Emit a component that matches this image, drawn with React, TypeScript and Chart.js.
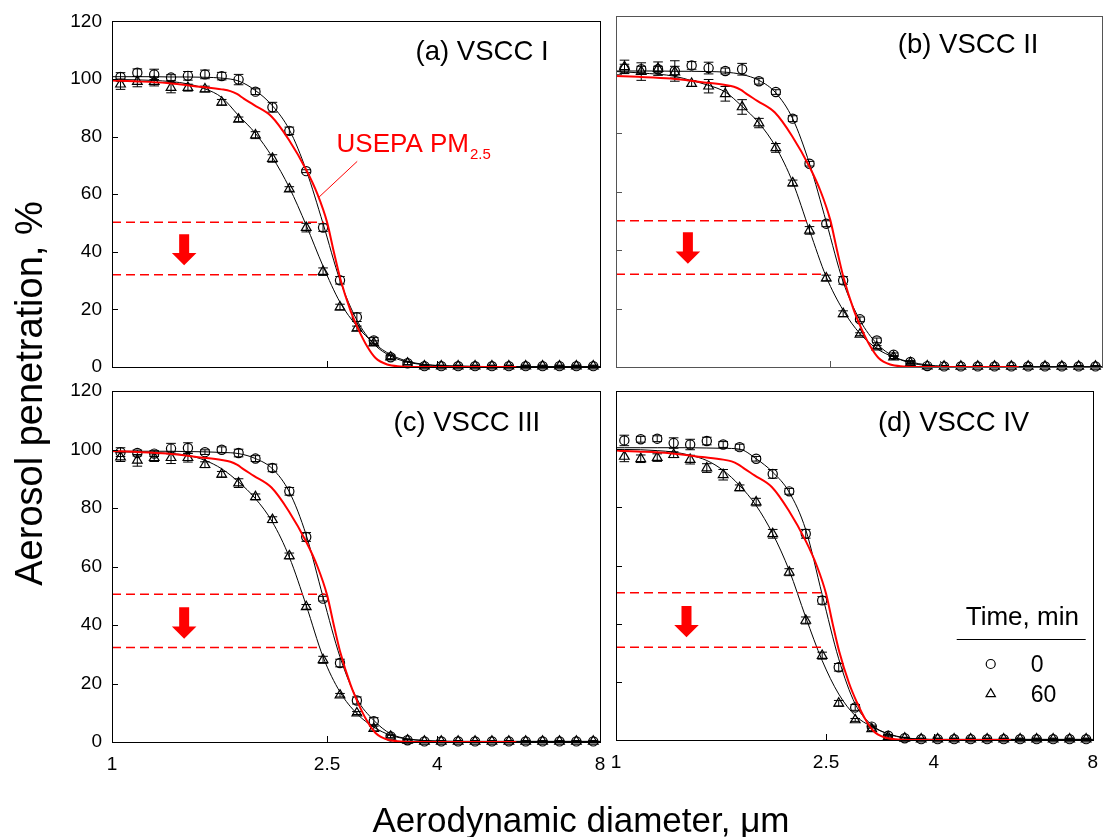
import React, { useEffect, useRef } from 'react';
import { Chart, registerables } from 'chart.js';

Chart.register(...registerables);

// ---------------- DATA ----------------
const DIAMETERS = [1.037, 1.114, 1.197, 1.286, 1.382, 1.486, 1.596, 1.715, 1.843, 1.981, 2.129, 2.288, 2.458, 2.642, 2.839, 3.051, 3.278, 3.523, 3.786, 4.068, 4.371, 4.698, 5.048, 5.425, 5.829, 6.264, 6.732, 7.234, 7.774];
const FIT_D = [1.0, 1.037, 1.114, 1.197, 1.286, 1.382, 1.486, 1.596, 1.715, 1.843, 1.981, 2.129, 2.288, 2.458, 2.642, 2.839, 3.051, 3.278, 3.523, 3.786, 4.068, 4.371, 4.698, 5.048, 5.425, 5.829, 6.264, 6.732, 7.234, 7.774, 8.0];
const X_TICKS = [1, 2.5, 4, 8];
const X_TICK_MARKS = [2.5, 4];
const Y_TICK_MARKS = [20, 40, 60, 80, 100];

// USEPA PM2.5 reference penetration curve
const USEPA_D = [1.0, 1.1, 1.264, 1.457, 1.596, 1.656, 1.703, 1.753, 1.83, 1.973, 2.123, 2.29, 2.4, 2.5, 2.573, 2.647, 2.763, 2.862, 2.967, 3.074, 3.231, 3.42, 3.72, 5.6];
const USEPA_P = [99.5, 99.2, 98.6, 97.3, 96.4, 95.8, 94.8, 93.2, 91.0, 87.0, 79.0, 68.3, 60.0, 50.3, 40.0, 30.5, 19.6, 12.8, 7.1, 3.1, 0.85, 0.2, 0, 0];

// (a) VSCC I
const A_T0 = [100.7, 102.2, 101.6, 100.5, 101.1, 101.6, 101.0, 99.8, 95.6, 90.2, 82.0, 68.0, 48.4, 30.1, 17.3, 9.2, 3.4, 1.3, 0.3, 0.3, 0.3, 0.3, 0.3, 0.3, 0.3, 0.3, 0.3, 0.3, 0.3];
const A_T0_ERR = [1.5, 1.3, 1.8, 1.0, 1.5, 1.5, 1.3, 1.8, 1.0, 1.7, 1.3, 0.5, 1.3, 1.3, 1.5, 1.0, 0.8, 0.5, 0.3, 0.3, 0.3, 0.3, 0.3, 0.3, 0.3, 0.3, 0.3, 0.3, 0.3];
const A_T60 = [98.2, 99.1, 99.1, 97.0, 97.0, 96.5, 91.9, 86.0, 80.5, 72.4, 61.8, 48.4, 33.1, 20.8, 13.4, 8.3, 3.4, 1.3, 0.3, 0.3, 0.3, 0.3, 0.3, 0.3, 0.3, 0.3, 0.3, 0.3, 0.3];
const A_T60_ERR = [1.8, 1.8, 1.5, 1.8, 1.2, 1.0, 1.0, 0.8, 1.2, 1.3, 0.8, 1.5, 1.3, 1.0, 0.8, 0.8, 0.5, 0.5, 0.3, 0.3, 0.3, 0.3, 0.3, 0.3, 0.3, 0.3, 0.3, 0.3, 0.3];
const A_FIT0 = [100.8, 100.8, 100.8, 100.8, 100.7, 100.7, 100.6, 100.3, 99.3, 96.0, 90.7, 82.4, 68.3, 49.8, 30.1, 16.3, 8.0, 3.8, 1.7, 0.8, 0.45, 0.3, 0.2, 0.15, 0.12, 0.1, 0.1, 0.1, 0.1, 0.1, 0.1];
const A_FIT60 = [99.8, 99.8, 99.7, 99.5, 99.1, 98.3, 96.6, 93.6, 87.3, 81.1, 72.8, 62.3, 49.2, 35.0, 22.5, 14.2, 8.3, 4.3, 2.0, 0.9, 0.45, 0.3, 0.2, 0.15, 0.12, 0.1, 0.1, 0.1, 0.1, 0.1, 0.1];

// (b) VSCC II
const B_T0 = [102.0, 101.8, 101.8, 101.2, 103.1, 102.2, 101.2, 101.8, 97.7, 94.0, 84.9, 69.5, 49.0, 29.6, 16.3, 9.1, 4.2, 1.7, 0.3, 0.2, 0.2, 0.2, 0.2, 0.2, 0.2, 0.2, 0.2, 0.2, 0.2];
const B_T0_ERR = [1.5, 1.0, 1.0, 3.5, 1.3, 2.0, 1.0, 2.0, 1.0, 0.8, 1.0, 0.8, 1.0, 1.3, 0.8, 0.8, 0.6, 0.5, 0.3, 0.3, 0.3, 0.3, 0.3, 0.3, 0.3, 0.3, 0.3, 0.3, 0.3];
const B_T60 = [102.6, 101.0, 102.0, 100.8, 96.9, 96.0, 93.4, 88.9, 83.4, 74.9, 62.9, 46.7, 30.4, 18.2, 11.2, 6.8, 3.4, 1.4, 0.3, 0.2, 0.2, 0.2, 0.2, 0.2, 0.2, 0.2, 0.2, 0.2, 0.2];
const B_T60_ERR = [2.3, 3.0, 2.3, 2.0, 1.0, 2.3, 2.5, 2.5, 1.6, 1.5, 1.0, 1.3, 1.0, 1.0, 0.5, 0.5, 0.5, 0.5, 0.3, 0.3, 0.3, 0.3, 0.3, 0.3, 0.3, 0.3, 0.3, 0.3, 0.3];
const B_FIT0 = [101.2, 101.2, 101.2, 101.2, 101.1, 101.1, 101.0, 100.8, 100.0, 98.0, 93.7, 84.9, 69.5, 49.6, 29.1, 16.0, 8.0, 3.6, 1.4, 0.5, 0.2, 0.1, 0.1, 0.1, 0.1, 0.1, 0.1, 0.1, 0.1, 0.1, 0.1];
const B_FIT60 = [101.0, 100.9, 100.5, 100.1, 99.4, 97.9, 96.3, 94.0, 89.1, 83.4, 75.2, 63.2, 46.7, 30.8, 19.4, 11.4, 6.3, 3.4, 1.7, 0.7, 0.2, 0.1, 0.1, 0.1, 0.1, 0.1, 0.1, 0.1, 0.1, 0.1, 0.1];

// (c) VSCC III
const C_T0 = [99.1, 98.8, 98.6, 100.3, 100.5, 99.1, 99.9, 98.8, 96.9, 93.7, 85.7, 70.1, 49.0, 27.0, 14.2, 7.1, 1.9, 0.6, 0.2, 0.2, 0.2, 0.2, 0.2, 0.2, 0.2, 0.2, 0.2, 0.2, 0.2];
const C_T0_ERR = [1.5, 1.0, 1.0, 1.8, 1.8, 0.8, 1.0, 1.3, 1.0, 1.3, 1.3, 1.5, 0.8, 1.3, 1.2, 1.2, 0.5, 0.3, 0.3, 0.3, 0.3, 0.3, 0.3, 0.3, 0.3, 0.3, 0.3, 0.3, 0.3];
const C_T60 = [97.4, 96.3, 97.2, 97.2, 97.2, 94.8, 91.5, 88.5, 83.8, 76.0, 63.6, 46.2, 28.1, 16.0, 9.9, 4.6, 1.9, 0.6, 0.2, 0.2, 0.2, 0.2, 0.2, 0.2, 0.2, 0.2, 0.2, 0.2, 0.2];
const C_T60_ERR = [1.5, 2.0, 1.3, 2.0, 1.5, 1.0, 1.0, 1.5, 1.0, 1.0, 1.0, 0.8, 1.2, 0.6, 0.5, 0.8, 0.5, 0.3, 0.3, 0.3, 0.3, 0.3, 0.3, 0.3, 0.3, 0.3, 0.3, 0.3, 0.3];
const C_FIT0 = [99.4, 99.4, 99.4, 99.4, 99.4, 99.3, 99.2, 99.0, 98.6, 96.9, 93.4, 85.5, 70.7, 49.6, 29.1, 14.8, 7.4, 2.8, 1.1, 0.5, 0.25, 0.2, 0.2, 0.2, 0.2, 0.2, 0.2, 0.2, 0.2, 0.2, 0.2];
const C_FIT60 = [99.3, 99.2, 99.1, 98.9, 98.6, 98.0, 96.3, 93.4, 88.9, 83.2, 75.2, 63.2, 46.7, 29.1, 17.1, 9.7, 5.1, 2.3, 1.0, 0.5, 0.25, 0.2, 0.2, 0.2, 0.2, 0.2, 0.2, 0.2, 0.2, 0.2, 0.2];

// (d) VSCC IV
const D_T0 = [103.0, 103.4, 103.6, 102.1, 101.6, 102.8, 101.6, 100.7, 96.7, 91.5, 85.5, 70.9, 48.0, 25.0, 11.2, 4.6, 1.5, 0.6, 0.3, 0.3, 0.3, 0.3, 0.3, 0.3, 0.3, 0.3, 0.3, 0.3, 0.3];
const D_T0_ERR = [1.8, 1.0, 1.0, 1.8, 1.8, 1.3, 1.0, 1.0, 0.8, 1.5, 1.0, 1.5, 1.3, 1.3, 1.0, 0.5, 0.4, 0.3, 0.3, 0.3, 0.3, 0.3, 0.3, 0.3, 0.3, 0.3, 0.3, 0.3, 0.3];
const D_T60 = [97.5, 96.7, 97.1, 98.1, 96.4, 93.5, 91.2, 86.7, 81.8, 70.9, 57.7, 41.1, 29.0, 12.6, 6.9, 3.8, 1.1, 0.6, 0.3, 0.3, 0.3, 0.3, 0.3, 0.3, 0.3, 0.3, 0.3, 0.3, 0.3];
const D_T60_ERR = [1.8, 1.3, 1.3, 1.0, 1.5, 1.5, 1.8, 1.0, 1.3, 1.5, 1.2, 1.2, 1.2, 1.0, 0.5, 0.8, 0.4, 0.3, 0.3, 0.3, 0.3, 0.3, 0.3, 0.3, 0.3, 0.3, 0.3, 0.3, 0.3];
const D_FIT0 = [100.5, 100.5, 100.5, 100.5, 100.5, 100.5, 100.4, 100.3, 100.0, 96.7, 92.1, 85.2, 72.3, 50.0, 27.9, 12.4, 5.2, 2.1, 0.7, 0.3, 0.2, 0.2, 0.2, 0.2, 0.2, 0.2, 0.2, 0.2, 0.2, 0.2, 0.2];
const D_FIT60 = [99.9, 99.9, 99.8, 99.5, 99.0, 97.9, 96.1, 92.7, 87.5, 80.6, 70.9, 58.3, 42.2, 27.3, 15.8, 8.4, 4.6, 2.1, 0.8, 0.3, 0.2, 0.2, 0.2, 0.2, 0.2, 0.2, 0.2, 0.2, 0.2, 0.2, 0.2];

// Cut-point guide levels [upper, lower] and where they end on the x axis
const A_GUIDE = [50.3, 32.0];
const A_GUIDE_END = [2.465, 2.41];
const B_GUIDE = [50.0, 31.7];
const B_GUIDE_END = [2.46, 2.46];
const C_GUIDE = [50.5, 32.3];
const C_GUIDE_END = [2.48, 2.41];
const D_GUIDE = [50.6, 31.9];
const D_GUIDE_END = [2.5, 2.45];

const PANEL_TITLES = ['(a) VSCC I', '(b) VSCC II', '(c) VSCC III', '(d) VSCC IV'];
const LEGEND_TITLE = 'Time, min';
const SERIES_NAMES = ['0', '60'];

// ---------------- STYLE / LAYOUT ----------------
const FONT = "'Liberation Sans', Arial, Helvetica, sans-serif";
const W = 1109;
const H = 837;
const Y_AXIS_W = 60;
const X_AXIS_H = 30;
const RED = '#ff0000';
const MARK_W = 1.2;

type Panel = {
  key: string;
  area: { l: number; t: number; r: number; b: number };
  showX: boolean;
  showY: boolean;
  frame: string;
  title: string;
  titleAt: [number, number];
  t0: number[]; t0e: number[]; t60: number[]; t60e: number[];
  fit0: number[]; fit60: number[];
  guide: number[]; guideEnd: number[];
  usepaLabel?: boolean;
  legend?: boolean;
  axisTitles?: boolean;
};

const PANELS: Panel[] = [
  { key: 'a', area: { l: 112, t: 16, r: 600, b: 367 }, showX: false, showY: true, frame: '#000', title: PANEL_TITLES[0], titleAt: [3.646, 106.6],
    t0: A_T0, t0e: A_T0_ERR, t60: A_T60, t60e: A_T60_ERR, fit0: A_FIT0, fit60: A_FIT60, guide: A_GUIDE, guideEnd: A_GUIDE_END, usepaLabel: true },
  { key: 'b', area: { l: 616, t: 16, r: 1104, b: 367 }, showX: false, showY: false, frame: '#555', title: PANEL_TITLES[1], titleAt: [3.338, 107.3],
    t0: B_T0, t0e: B_T0_ERR, t60: B_T60, t60e: B_T60_ERR, fit0: B_FIT0, fit60: B_FIT60, guide: B_GUIDE, guideEnd: B_GUIDE_END },
  { key: 'c', area: { l: 112, t: 391, r: 600, b: 742 }, showX: true, showY: true, frame: '#000', title: PANEL_TITLES[2], titleAt: [3.319, 106.3],
    t0: C_T0, t0e: C_T0_ERR, t60: C_T60, t60e: C_T60_ERR, fit0: C_FIT0, fit60: C_FIT60, guide: C_GUIDE, guideEnd: C_GUIDE_END, axisTitles: true },
  { key: 'd', area: { l: 616, t: 391, r: 1102, b: 740 }, showX: true, showY: false, frame: '#000', title: PANEL_TITLES[3], titleAt: [3.134, 106.4],
    t0: D_T0, t0e: D_T0_ERR, t60: D_T60, t60e: D_T60_ERR, fit0: D_FIT0, fit60: D_FIT60, guide: D_GUIDE, guideEnd: D_GUIDE_END, legend: true },
];

function drawMarker(ctx: CanvasRenderingContext2D, style: string, x: number, y: number, r: number) {
  ctx.beginPath();
  if (style === 'circle') {
    ctx.arc(x, y, r, 0, Math.PI * 2);
  } else {
    let rad = 0;
    const t = (Math.PI * 2) / 3;
    ctx.moveTo(x + Math.sin(rad) * r, y - Math.cos(rad) * r);
    rad += t;
    ctx.lineTo(x + Math.sin(rad) * r, y - Math.cos(rad) * r);
    rad += t;
    ctx.lineTo(x + Math.sin(rad) * r, y - Math.cos(rad) * r);
    ctx.closePath();
  }
  ctx.stroke();
}

const decoPlugin = {
  id: 'deco',
  beforeDatasetsDraw(chart: any) {
    const ctx = chart.ctx as CanvasRenderingContext2D;
    const ys = chart.scales.y;
    ctx.save();
    ctx.strokeStyle = '#000';
    ctx.lineWidth = 1;
    chart.data.datasets.forEach((ds: any, i: number) => {
      if (!ds.errors) return;
      const meta = chart.getDatasetMeta(i);
      meta.data.forEach((pt: any, j: number) => {
        const v = ds.data[j].y;
        const e = ds.errors[j];
        const y1 = ys.getPixelForValue(v + e);
        const y2 = ys.getPixelForValue(v - e);
        const x = pt.x;
        ctx.beginPath();
        ctx.moveTo(x, y1); ctx.lineTo(x, y2);
        ctx.moveTo(x - 4.8, y1); ctx.lineTo(x + 4.8, y1);
        ctx.moveTo(x - 4.8, y2); ctx.lineTo(x + 4.8, y2);
        ctx.stroke();
      });
    });
    ctx.restore();
  },
  afterDraw(chart: any, _args: any, opts: any) {
    const p: Panel = opts.panel;
    const ctx = chart.ctx as CanvasRenderingContext2D;
    const ca = chart.chartArea;
    const xs = chart.scales.x;
    const ys = chart.scales.y;
    ctx.save();
    // frame
    ctx.strokeStyle = p.frame;
    ctx.lineWidth = 1;
    ctx.strokeRect(Math.round(ca.left) + 0.5, Math.round(ca.top) + 0.5, Math.round(ca.right - ca.left), Math.round(ca.bottom - ca.top));
    // inward tick marks
    ctx.beginPath();
    Y_TICK_MARKS.forEach((v) => {
      const y = Math.round(ys.getPixelForValue(v)) + 0.5;
      ctx.moveTo(ca.left, y); ctx.lineTo(ca.left + 6, y);
    });
    X_TICK_MARKS.forEach((v) => {
      const x = Math.round(xs.getPixelForValue(v)) + 0.5;
      ctx.moveTo(x, ca.bottom); ctx.lineTo(x, ca.bottom - 6);
    });
    ctx.stroke();

    // arrow
    const ax = xs.getPixelForValue(1.36);
    const aTop = ys.getPixelForValue(46.1);
    const aTip = ys.getPixelForValue(35.3);
    ctx.fillStyle = RED;
    ctx.beginPath();
    ctx.moveTo(ax - 5, aTop);
    ctx.lineTo(ax + 5, aTop);
    ctx.lineTo(ax + 5, aTip - 12.3);
    ctx.lineTo(ax + 12.3, aTip - 12.3);
    ctx.lineTo(ax, aTip);
    ctx.lineTo(ax - 12.3, aTip - 12.3);
    ctx.lineTo(ax - 5, aTip - 12.3);
    ctx.closePath();
    ctx.fill();

    // panel title
    ctx.fillStyle = '#000';
    ctx.font = `27.5px ${FONT}`;
    ctx.textAlign = 'left';
    ctx.textBaseline = 'alphabetic';
    ctx.fillText(p.title, xs.getPixelForValue(p.titleAt[0]), ys.getPixelForValue(p.titleAt[1]));

    if (p.usepaLabel) {
      const tx = xs.getPixelForValue(2.603);
      const ty = ys.getPixelForValue(74.8);
      ctx.fillStyle = RED;
      ctx.font = `26px ${FONT}`;
      const main = 'USEPA PM';
      ctx.fillText(main, tx, ty);
      const w = ctx.measureText(main).width;
      ctx.font = `15px ${FONT}`;
      ctx.fillText('2.5', tx + w + 1, ty + 7);
      ctx.strokeStyle = RED;
      ctx.lineWidth = 1;
      ctx.beginPath();
      ctx.moveTo(xs.getPixelForValue(2.843), ys.getPixelForValue(71.4));
      ctx.lineTo(xs.getPixelForValue(2.413), ys.getPixelForValue(58.9));
      ctx.stroke();
    }

    if (p.legend) {
      ctx.fillStyle = '#000';
      ctx.strokeStyle = '#000';
      ctx.font = `26px ${FONT}`;
      ctx.fillText(LEGEND_TITLE, ca.right - 127, ca.bottom - 115);
      ctx.lineWidth = 1;
      ctx.beginPath();
      ctx.moveTo(ca.right - 136, Math.round(ca.bottom - 101) + 0.5);
      ctx.lineTo(ca.right - 7, Math.round(ca.bottom - 101) + 0.5);
      ctx.stroke();
      ctx.lineWidth = MARK_W;
      drawMarker(ctx, 'circle', ca.right - 102, ca.bottom - 76, 4.5);
      drawMarker(ctx, 'triangle', ca.right - 102, ca.bottom - 46, 5.4);
      ctx.font = `23px ${FONT}`;
      ctx.fillText(SERIES_NAMES[0], ca.right - 62, ca.bottom - 68);
      ctx.fillText(SERIES_NAMES[1], ca.right - 62, ca.bottom - 38);
    }

    if (p.axisTitles) {
      ctx.fillStyle = '#000';
      ctx.font = `38px ${FONT}`;
      ctx.textAlign = 'center';
      ctx.textBaseline = 'alphabetic';
      ctx.save();
      ctx.translate(41.5, 393.5);
      ctx.rotate(-Math.PI / 2);
      ctx.fillText('Aerosol penetration, %', 0, 0);
      ctx.restore();
      ctx.font = `35px ${FONT}`;
      ctx.fillText('Aerodynamic diameter, \u03BCm', 581, 832);
    }
    ctx.restore();
  },
};

function buildConfig(p: Panel): any {
  const pts = (xs: number[], ys: number[]) => xs.map((x, i) => ({ x, y: ys[i] }));
  const lineBase = { showLine: true, pointRadius: 0, fill: false, clip: false };
  const datasets: any[] = [
    { ...lineBase, data: pts(USEPA_D, USEPA_P), borderColor: RED, borderWidth: 2, cubicInterpolationMode: 'monotone' },
    { ...lineBase, data: [{ x: 1, y: p.guide[0] }, { x: p.guideEnd[0], y: p.guide[0] }], borderColor: RED, borderWidth: 1.5, borderDash: [9, 5] },
    { ...lineBase, data: [{ x: 1, y: p.guide[1] }, { x: p.guideEnd[1], y: p.guide[1] }], borderColor: RED, borderWidth: 1.5, borderDash: [9, 5] },
    { ...lineBase, data: pts(FIT_D, p.fit0), borderColor: '#000', borderWidth: 1, cubicInterpolationMode: 'monotone' },
    { ...lineBase, data: pts(FIT_D, p.fit60), borderColor: '#000', borderWidth: 1, cubicInterpolationMode: 'monotone' },
    { data: pts(DIAMETERS, p.t0), errors: p.t0e, showLine: false, clip: false, pointStyle: 'circle', pointRadius: 4.6, pointBorderWidth: MARK_W, pointBorderColor: '#000', pointBackgroundColor: 'rgba(0,0,0,0)' },
    { data: pts(DIAMETERS, p.t60), errors: p.t60e, showLine: false, clip: false, pointStyle: 'triangle', pointRadius: 5.6, pointBorderWidth: MARK_W, pointBorderColor: '#000', pointBackgroundColor: 'rgba(0,0,0,0)' },
  ];
  const tickFont = { family: FONT, size: 19 };
  return {
    type: 'scatter',
    data: { datasets },
    options: {
      animation: false,
      responsive: false,
      devicePixelRatio: 1,
      events: [],
      layout: { padding: { left: p.area.l - Y_AXIS_W, top: p.area.t, right: W - p.area.r, bottom: H - p.area.b - X_AXIS_H } },
      plugins: { legend: { display: false }, tooltip: { enabled: false }, deco: { panel: p } },
      scales: {
        x: {
          type: 'logarithmic', min: 1, max: 8,
          afterBuildTicks: (s: any) => { s.ticks = X_TICKS.map((v) => ({ value: v })); },
          afterFit: (s: any) => { s.height = X_AXIS_H; },
          ticks: { display: p.showX, autoSkip: false, maxRotation: 0, minRotation: 0, padding: 11, color: '#000', font: tickFont, callback: (v: any) => String(v) },
          grid: { display: false, drawTicks: false },
          border: { display: false },
        },
        y: {
          min: 0, max: 120,
          afterFit: (s: any) => { s.width = Y_AXIS_W; },
          ticks: { display: p.showY, stepSize: 20, padding: 10, color: '#000', font: tickFont },
          grid: { display: false, drawTicks: false },
          border: { display: false },
        },
      },
    },
    plugins: [decoPlugin],
  };
}

function PanelChart({ panel }: { panel: Panel }) {
  const ref = useRef<HTMLCanvasElement>(null);
  useEffect(() => {
    const chart = new Chart(ref.current as HTMLCanvasElement, buildConfig(panel));
    return () => chart.destroy();
  }, [panel]);
  return <canvas ref={ref} width={W} height={H} style={{ position: 'absolute', left: 0, top: 0, width: W, height: H }} />;
}

export default function App() {
  return (
    <div style={{ position: 'absolute', left: 0, top: 0, width: W, height: H, background: '#fff', overflow: 'hidden' }}>
      {PANELS.map((p) => (
        <PanelChart key={p.key} panel={p} />
      ))}
    </div>
  );
}
